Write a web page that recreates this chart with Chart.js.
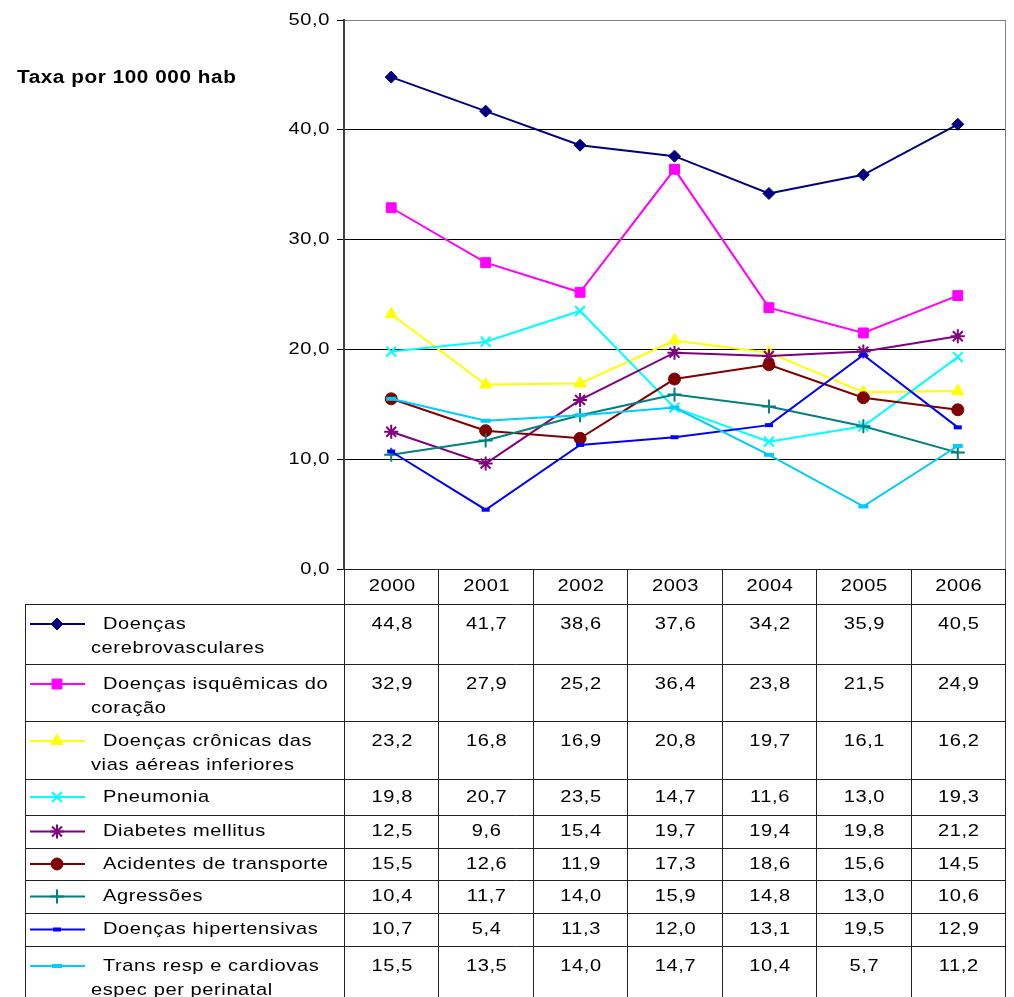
<!DOCTYPE html>
<html>
<head>
<meta charset="utf-8">
<script src="https://cdn.jsdelivr.net/npm/chart.js@4/dist/chart.umd.min.js"></script>
<style>
  body { margin: 0; background: #fff; }
  #wrap { width: 1014px; height: 997px; }
</style>
</head>
<body>
<div id="wrap"><canvas id="chart" width="1014" height="997"></canvas></div>
<script>
const years = ['2000', '2001', '2002', '2003', '2004', '2005', '2006'];
const yTicks = [0, 10, 20, 30, 40, 50];

const cerebro = [44.8, 41.7, 38.6, 37.6, 34.2, 35.9, 40.5];
const isquemicas = [32.9, 27.9, 25.2, 36.4, 23.8, 21.5, 24.9];
const cronicas = [23.2, 16.8, 16.9, 20.8, 19.7, 16.1, 16.2];
const pneumonia = [19.8, 20.7, 23.5, 14.7, 11.6, 13.0, 19.3];
const diabetes = [12.5, 9.6, 15.4, 19.7, 19.4, 19.8, 21.2];
const acidentes = [15.5, 12.6, 11.9, 17.3, 18.6, 15.6, 14.5];
const agressoes = [10.4, 11.7, 14.0, 15.9, 14.8, 13.0, 10.6];
const hipertensivas = [10.7, 5.4, 11.3, 12.0, 13.1, 19.5, 12.9];
const transResp = [15.5, 13.5, 14.0, 14.7, 10.4, 5.7, 11.2];

const seriesNames = [
  ['Doenças', 'cerebrovasculares'],
  ['Doenças isquêmicas do', 'coração'],
  ['Doenças crônicas das', 'vias aéreas inferiores'],
  ['Pneumonia'],
  ['Diabetes mellitus'],
  ['Acidentes de transporte'],
  ['Agressões'],
  ['Doenças hipertensivas'],
  ['Trans resp e cardiovas', 'espec per perinatal'],
];
const seriesValues = [cerebro, isquemicas, cronicas, pneumonia, diabetes,
  acidentes, agressoes, hipertensivas, transResp];

const colors = ['#000080', '#FF00FF', '#FFFF00', '#00FFFF', '#800080',
  '#800000', '#008080', '#0000FF', '#00CCFF'];
const markers = [
  { pointStyle: 'rectRot', radius: 6, borderWidth: 1 },
  { pointStyle: 'rect', radius: 7, borderWidth: 1 },
  { pointStyle: 'triangle', radius: 7, borderWidth: 1 },
  { pointStyle: 'crossRot', radius: 7, borderWidth: 2 },
  { pointStyle: 'star', radius: 7, borderWidth: 2 },
  { pointStyle: 'circle', radius: 6, borderWidth: 1 },
  { pointStyle: 'cross', radius: 7, borderWidth: 2 },
  { pointStyle: 'line', radius: 4, borderWidth: 4 },
  { pointStyle: 'line', radius: 5, borderWidth: 4 },
];
const rowHeights = [60, 57, 58, 36, 33, 32, 33, 33, 60];

const FONT = '17px "Liberation Sans", Arial, sans-serif';
const STRETCH = 1.18;
const fmt = (v) => v.toFixed(1).replace('.', ',');

// text in the source picture is a bit wider than plain Arial
function wideText(ctx, text, x, y, align, sx = STRETCH) {
  ctx.save();
  ctx.translate(x, y);
  ctx.scale(sx, 1);
  ctx.textAlign = align;
  ctx.fillText(text, 0, 0);
  ctx.restore();
}

const tablePlugin = {
  id: 'dataTable',
  afterDraw(chart) {
    const { ctx, chartArea: area, scales: { x, y } } = chart;
    const colW = (area.right - area.left) / years.length;
    const tableLeft = 25.5;
    const bottom = chart.height;
    const headerBottom = area.bottom + 35;

    ctx.save();
    ctx.lineWidth = 1;

    // plot frame
    ctx.strokeStyle = '#808080';
    ctx.beginPath();
    ctx.moveTo(Math.round(area.right) + 0.5, area.top);
    ctx.lineTo(Math.round(area.right) + 0.5, area.bottom);
    ctx.stroke();

    // table grid
    ctx.strokeStyle = '#222';
    ctx.beginPath();
    ctx.moveTo(area.left, Math.round(area.bottom) + 0.5);
    ctx.lineTo(area.right, Math.round(area.bottom) + 0.5);
    for (let i = 0; i <= years.length; i++) {
      const xx = Math.round(area.left + i * colW) + 0.5;
      ctx.moveTo(xx, area.bottom);
      ctx.lineTo(xx, bottom);
    }
    ctx.moveTo(tableLeft, headerBottom);
    ctx.lineTo(tableLeft, bottom);
    let top = headerBottom;
    const rowTops = [];
    for (let r = 0; r < seriesNames.length; r++) {
      rowTops.push(top);
      ctx.moveTo(tableLeft, Math.round(top) + 0.5);
      ctx.lineTo(area.right, Math.round(top) + 0.5);
      top += rowHeights[r];
    }
    ctx.stroke();

    ctx.letterSpacing = '0.5px';
    ctx.font = FONT;
    ctx.fillStyle = '#000';
    ctx.textBaseline = 'middle';

    // y tick labels
    y.ticks.forEach((t) => {
      wideText(ctx, fmt(t.value), 330, y.getPixelForValue(t.value), 'right');
    });

    years.forEach((yr, i) => {
      wideText(ctx, yr, x.getPixelForValue(i) + 1, area.bottom + 17, 'center');
    });

    seriesNames.forEach((lines, r) => {
      const h = rowHeights[r];
      const y0 = rowTops[r] + Math.min(20, h / 2);

      // legend key
      ctx.strokeStyle = colors[r];
      ctx.fillStyle = colors[r];
      ctx.lineWidth = 2;
      ctx.beginPath();
      ctx.moveTo(30, y0);
      ctx.lineTo(85, y0);
      ctx.stroke();
      ctx.lineWidth = markers[r].borderWidth;
      Chart.helpers.drawPoint(ctx, { ...markers[r], rotation: 0 }, 57, y0);

      ctx.fillStyle = '#000';
      lines.forEach((ln, k) => {
        wideText(ctx, ln, k === 0 ? 103 : 91, y0 + k * 24, 'left');
      });

      seriesValues[r].forEach((v, j) => {
        wideText(ctx, fmt(v), x.getPixelForValue(j) + 1, y0, 'center');
      });
    });

    // axis title
    ctx.font = 'bold 18px "Liberation Sans", Arial, sans-serif';
    wideText(ctx, 'Taxa por 100 000 hab', 17, 78, 'left', 1.15);

    ctx.restore();
  },
};

const datasets = seriesValues.map((vals, i) => ({
  label: seriesNames[i].join(' '),
  data: vals,
  borderColor: colors[i],
  backgroundColor: colors[i],
  borderWidth: 2,
  tension: 0,
  fill: false,
  pointStyle: markers[i].pointStyle,
  pointRadius: markers[i].radius,
  pointBorderWidth: markers[i].borderWidth,
  pointBackgroundColor: colors[i],
  pointBorderColor: colors[i],
  order: seriesValues.length - i,
}));

new Chart(document.getElementById('chart'), {
  type: 'line',
  data: { labels: years, datasets },
  options: {
    responsive: false,
    animation: false,
    layout: { padding: { left: 0, top: 20, right: 7, bottom: 428 } },
    plugins: {
      legend: { display: false },
      tooltip: { enabled: false },
    },
    scales: {
      x: {
        display: false,
        offset: true,
      },
      y: {
        min: 0,
        max: 50,
        afterFit: (scale) => { scale.width = 344; },
        afterBuildTicks: (scale) => {
          scale.ticks = yTicks.map((v) => ({ value: v }));
        },
        ticks: { display: false },
        grid: {
          color: (c) => (c.tick && c.tick.value === 50 ? '#808080' : '#000'),
          tickColor: '#000',
          tickLength: 7,
          lineWidth: 1,
        },
        border: { color: '#404040', width: 2 },
      },
    },
  },
  plugins: [tablePlugin],
});
</script>
</body>
</html>
